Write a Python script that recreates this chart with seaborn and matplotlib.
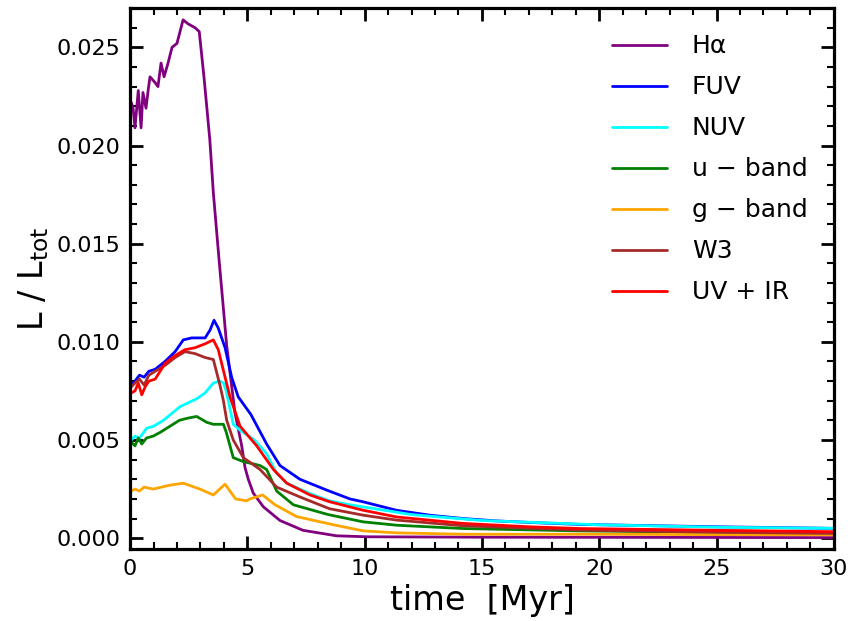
import pandas as pd
import matplotlib
matplotlib.use("Agg")
import matplotlib.pyplot as plt
import seaborn as sns
from matplotlib.ticker import MultipleLocator

# Fraction of total luminosity vs time, per tracer
t_halpha = [0.05, 0.13, 0.21, 0.35, 0.47, 0.55, 0.68, 0.77, 0.85, 1.07, 1.19, 1.32, 1.45, 1.62, 1.79,
            2.0, 2.26, 2.47, 2.77, 2.95, 3.15, 3.4, 3.55, 3.8, 4.12, 4.47, 4.76, 4.9, 5.04, 5.25,
            5.68, 6.39, 7.37, 8.8, 10.1, 15, 30]
halpha = [0.0222, 0.0219, 0.0209, 0.0228, 0.0209, 0.0227, 0.0219, 0.0228, 0.0235, 0.0232, 0.0230,
          0.0242, 0.0235, 0.0242, 0.0250, 0.0252, 0.0264, 0.0262, 0.0260, 0.0258, 0.0235, 0.0203,
          0.0176, 0.0141, 0.0098, 0.0064, 0.0047, 0.0036, 0.0030, 0.0023, 0.0016, 0.0009, 0.0004,
          0.00012, 0.00007, 0.00005, 0.00003]

t_fuv = [0.05, 0.21, 0.4, 0.6, 0.8, 1.07, 1.49, 1.92, 2.27, 2.63, 3.2, 3.41, 3.58, 3.76, 4.05, 4.33,
         4.61, 5.15, 5.82, 6.39, 7.24, 8.4, 9.37, 9.94, 11.36, 12.78, 14.2, 15.6, 17.04, 19.17, 25, 30]
fuv = [0.0078, 0.0080, 0.0083, 0.0082, 0.0085, 0.0086, 0.0090, 0.0095, 0.0101, 0.0102, 0.0102,
       0.0106, 0.0111, 0.0107, 0.0097, 0.0082, 0.0072, 0.0063, 0.0048, 0.0037, 0.0030, 0.00244,
       0.0020, 0.00185, 0.00142, 0.00117, 0.0010, 0.00088, 0.0008, 0.0007, 0.00058, 0.0005]

t_nuv = [0.05, 0.21, 0.4, 0.71, 1.0, 1.42, 2.13, 2.84, 3.2, 3.55, 3.83, 3.98, 4.1, 4.4, 4.69, 5.3,
         5.82, 6.25, 6.68, 7.67, 8.5, 9.37, 12, 15, 20, 25, 30]
nuv = [0.0050, 0.0052, 0.0051, 0.0056, 0.0057, 0.0060, 0.0067, 0.0071, 0.0074, 0.0079, 0.0080,
       0.0079, 0.0075, 0.0058, 0.0055, 0.0050, 0.0043, 0.0033, 0.0028, 0.00227, 0.0019, 0.0017,
       0.0012, 0.0009, 0.00068, 0.00056, 0.0005]

t_u = [0.05, 0.21, 0.35, 0.5, 0.7, 0.99, 1.3, 1.7, 2.1, 2.41, 2.84, 3.27, 3.55, 3.98, 4.1, 4.4,
       4.83, 5.54, 5.82, 6.25, 6.96, 8.45, 9.94, 11.36, 14.2, 19.2, 25, 30]
u_band = [0.0049, 0.0047, 0.0051, 0.0048, 0.0051, 0.0052, 0.0054, 0.0057, 0.0060, 0.0061, 0.0062,
          0.0059, 0.0058, 0.0058, 0.0054, 0.0041, 0.0039, 0.0037, 0.0035, 0.0024, 0.0017, 0.0012,
          0.00083, 0.00066, 0.00049, 0.00037, 0.0003, 0.00026]

t_g = [0.05, 0.21, 0.4, 0.6, 0.99, 1.7, 2.27, 2.98, 3.55, 4.05, 4.5, 4.97, 5.11, 5.65, 6.18, 7.1,
       8.6, 9.94, 11.36, 14.2, 17, 20, 25, 30]
g_band = [0.0024, 0.0025, 0.0024, 0.0026, 0.0025, 0.0027, 0.0028, 0.0025, 0.0022, 0.00275, 0.0020,
          0.0019, 0.0020, 0.0022, 0.0017, 0.0011, 0.0007, 0.00037, 0.00027, 0.0002, 0.0002, 0.0002,
          0.00018, 0.00017]

t_w3 = [0.05, 0.21, 0.4, 0.6, 0.8, 1.07, 1.49, 1.92, 2.34, 2.77, 3.2, 3.55, 3.83, 3.98, 4.12, 4.4,
        4.83, 5.54, 6.25, 7.24, 8.5, 9.94, 11.36, 14.2, 19.2, 25, 30]
w3 = [0.0077, 0.0079, 0.0081, 0.0078, 0.0083, 0.0085, 0.0088, 0.0092, 0.0095, 0.0094, 0.0092,
      0.0091, 0.0078, 0.0070, 0.0060, 0.0050, 0.0041, 0.0035, 0.0026, 0.0021, 0.0015, 0.00117,
      0.00092, 0.00063, 0.00041, 0.0003, 0.00024]

t_uvir = [0.05, 0.21, 0.35, 0.5, 0.64, 0.8, 1.07, 1.49, 1.92, 2.34, 2.77, 3.2, 3.55, 3.76, 4.05,
          4.26, 4.69, 5.4, 6.11, 6.68, 7.67, 8.52, 9.94, 11.36, 14.2, 17, 19.2, 25, 30]
uv_ir = [0.0074, 0.0075, 0.0079, 0.0073, 0.0077, 0.0080, 0.0081, 0.0089, 0.0093, 0.0096, 0.0097,
         0.0099, 0.0101, 0.0096, 0.0082, 0.0072, 0.0057, 0.0047, 0.0035, 0.0028, 0.0022, 0.00185,
         0.00142, 0.00108, 0.00075, 0.00058, 0.00049, 0.0004, 0.00033]

BANDS = ["Hα", "FUV", "NUV", "u − band", "g − band", "W3", "UV + IR"]
COLORS = ["purple", "blue", "cyan", "green", "orange", "brown", "red"]
SERIES = [(t_halpha, halpha), (t_fuv, fuv), (t_nuv, nuv), (t_u, u_band),
          (t_g, g_band), (t_w3, w3), (t_uvir, uv_ir)]


def build_frame():
    frames = []
    for name, (t, v) in zip(BANDS, SERIES):
        frames.append(pd.DataFrame({"time": t, "frac": v, "band": name}))
    return pd.concat(frames, ignore_index=True)


df = build_frame()

sns.set_style("ticks", {"axes.edgecolor": "black", "xtick.color": "black",
                        "ytick.color": "black", "text.color": "black",
                        "axes.labelcolor": "black"})
plt.rcParams["font.family"] = ["DejaVu Sans"]

fig = plt.figure(figsize=(8.5, 6.21), dpi=100)
ax = fig.add_axes([0.153, 0.116, 0.828, 0.871])

sns.lineplot(data=df, x="time", y="frac", hue="band", hue_order=BANDS,
             palette=dict(zip(BANDS, COLORS)), sort=False, estimator=None,
             linewidth=2, ax=ax)

ax.set_xlim(0, 30)
ax.set_ylim(-0.00055, 0.027)
ax.xaxis.set_major_locator(MultipleLocator(5))
ax.xaxis.set_minor_locator(MultipleLocator(1))
ax.yaxis.set_major_locator(MultipleLocator(0.005))
ax.yaxis.set_minor_locator(MultipleLocator(0.001))
ax.yaxis.set_major_formatter(matplotlib.ticker.FormatStrFormatter("%.3f"))

ax.tick_params(which="both", direction="in", top=True, right=True, labelsize=16,
               colors="black")
ax.tick_params(which="major", length=9.5, width=2, pad=7)
ax.tick_params(which="minor", length=5, width=1.5)
for sp in ax.spines.values():
    sp.set_linewidth(2.3)
    sp.set_color("black")

ax.set_xlabel("time  [Myr]", fontsize=24, color="black")
ax.set_ylabel(r"$\mathrm{L\ /\ L_{tot}}$", fontsize=24, color="black")

leg = ax.legend(loc="upper right", frameon=False, fontsize=18, handlelength=2.2,
                handletextpad=1.0, labelspacing=0.68, borderaxespad=0.65, title=None)
for txt in leg.get_texts():
    txt.set_color("black")

fig.savefig("out.png", dpi=100)
